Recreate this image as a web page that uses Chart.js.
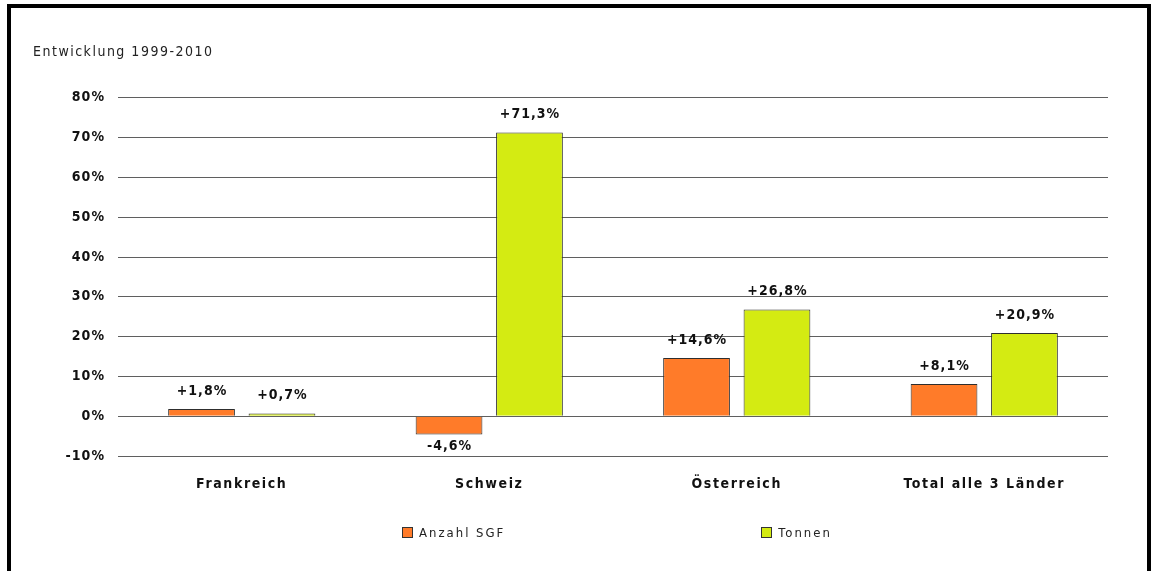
<!DOCTYPE html>
<html>
<head>
<meta charset="utf-8">
<script src="https://cdn.jsdelivr.net/npm/chart.js@4"></script>
<style>
  html, body { margin: 0; padding: 0; background: #fff; width: 1156px; height: 571px; overflow: hidden; }
  #frame { position: absolute; left: 7px; top: 4px; width: 1136px; height: 620px; border: 4px solid #000; border-bottom: none; box-sizing: content-box; }
  #wrap { position: absolute; left: 0; top: 0; width: 1156px; height: 571px; }
  #legend { position: absolute; left: 402px; top: 525px; display: flex; align-items: center;
    font-family: 'DejaVu Sans Condensed', 'DejaVu Sans', sans-serif; font-size: 13px; letter-spacing: 2px; color: #222; }
  #legend .item { display: flex; align-items: center; }
  #legend .item + .item { margin-left: 256px; }
  #legend .box { width: 9px; height: 9px; border: 1px solid #333; margin-right: 6px; }
</style>
</head>
<body>
<div id="frame"></div>
<div id="wrap"><canvas id="c" width="1156" height="571"></canvas></div>
<div id="legend"></div>
<script>
const titleText = 'Entwicklung 1999-2010';
const categories = ['Frankreich', 'Schweiz', 'Österreich', 'Total alle 3 Länder'];
const anzahlSGF = [1.8, -4.6, 14.6, 8.1];
const tonnen = [0.7, 71.3, 26.8, 20.9];
const seriesNames = ['Anzahl SGF', 'Tonnen'];
const yMin = -10, yMax = 80, yStep = 10;

const FONT = "'DejaVu Sans Condensed', 'DejaVu Sans', sans-serif";

function fmt(v) {
  return (v > 0 ? '+' : '') + v.toFixed(1).replace('.', ',') + '%';
}

const spacingPlugin = {
  id: 'spacing',
  afterLayout(chart) {
    const patch = (obj, method, sp) => {
      if (!obj || obj['__p_' + method]) return;
      const orig = obj[method];
      obj[method] = function (...a) {
        const ctx = chart.ctx;
        ctx.save();
        ctx.letterSpacing = sp;
        orig.apply(this, a);
        ctx.restore();
      };
      obj['__p_' + method] = true;
    };
    patch(chart.scales.x, 'drawLabels', '1.6px');
    patch(chart.scales.y, 'drawLabels', '1px');
    patch(chart.titleBlock, 'draw', '1.5px');
  }
};

const valueLabels = {
  id: 'valueLabels',
  afterDatasetsDraw(chart) {
    const ctx = chart.ctx;
    ctx.save();
    ctx.letterSpacing = '1px';
    ctx.font = 'bold 14px ' + FONT;
    ctx.fillStyle = '#111';
    ctx.textAlign = 'center';
    ctx.textBaseline = 'middle';
    chart.data.datasets.forEach((ds, i) => {
      const meta = chart.getDatasetMeta(i);
      meta.data.forEach((el, j) => {
        const v = ds.data[j];
        const y = v >= 0 ? el.y - 18 : el.y + 12;
        ctx.fillText(fmt(v), el.x + 0.5, y);
      });
    });
    ctx.restore();
  }
};

const htmlLegend = {
  id: 'htmlLegend',
  afterUpdate(chart) {
    const box = document.getElementById('legend');
    box.innerHTML = '';
    chart.data.datasets.forEach(ds => {
      const it = document.createElement('div');
      it.className = 'item';
      const b = document.createElement('span');
      b.className = 'box';
      b.style.background = ds.backgroundColor;
      const t = document.createElement('span');
      t.textContent = ds.label;
      it.appendChild(b); it.appendChild(t);
      box.appendChild(it);
    });
  }
};

new Chart(document.getElementById('c'), {
  type: 'bar',
  data: {
    labels: categories,
    datasets: [
      { label: seriesNames[0], data: anzahlSGF, backgroundColor: '#FF7B29', borderColor: '#2e2e2e', borderWidth: 1,
        categoryPercentage: 0.65, barPercentage: 0.83 },
      { label: seriesNames[1], data: tonnen, backgroundColor: '#D4EB12', borderColor: '#2e2e2e', borderWidth: 1,
        categoryPercentage: 0.65, barPercentage: 0.83 }
    ]
  },
  options: {
    responsive: false,
    animation: false,
    events: [],
    layout: { padding: { left: 33, right: 48, top: 0, bottom: 0 } },
    plugins: {
      legend: { display: false },
      tooltip: { enabled: false },
      title: {
        display: true,
        text: titleText,
        align: 'start',
        color: '#222',
        font: { family: FONT, size: 14, weight: 'normal', lineHeight: 1.2 },
        padding: { top: 44, bottom: 37 }
      }
    },
    scales: {
      x: {
        grid: { display: false },
        border: { display: false },
        ticks: { color: '#111', font: { family: FONT, size: 14, weight: 'bold' }, padding: 12, maxRotation: 0 },
        afterFit(s) { s.height = 115; }
      },
      y: {
        min: yMin, max: yMax,
        grid: { color: '#5f5f5f', lineWidth: 1, drawTicks: false },
        border: { display: false },
        ticks: {
          stepSize: yStep,
          color: '#111',
          padding: 13,
          font: { family: FONT, size: 14, weight: 'bold' },
          callback: v => v + '%'
        },
        afterFit(s) { s.width = 85; }
      }
    }
  },
  plugins: [spacingPlugin, valueLabels, htmlLegend]
});
</script>
</body>
</html>
